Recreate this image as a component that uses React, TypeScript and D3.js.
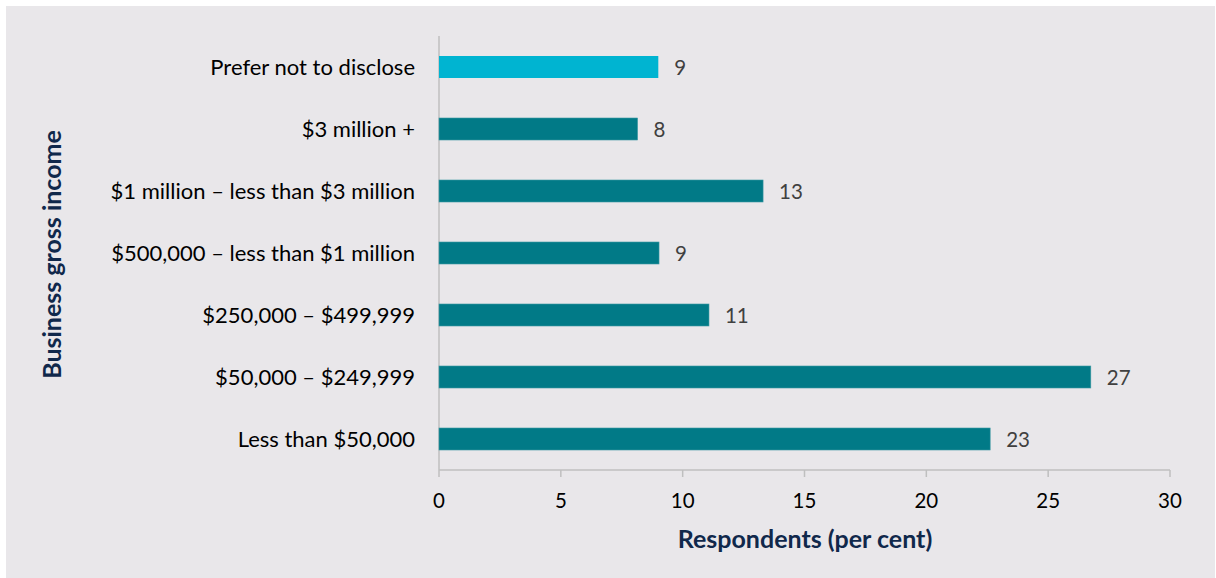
import React from "react";
import * as d3 from "d3";

const categories = [
  "Prefer not to disclose",
  "$3 million +",
  "$1 million – less than $3 million",
  "$500,000 – less than $1 million",
  "$250,000 – $499,999",
  "$50,000 – $249,999",
  "Less than $50,000",
];
const values = [9.0, 8.15, 13.3, 9.03, 11.08, 26.75, 22.62];
const barColors = ["#00B4D1", "#017A87", "#017A87", "#017A87", "#017A87", "#017A87", "#017A87"];
const xTicks = [0, 5, 10, 15, 20, 25, 30];
const xTitle = "Respondents (per cent)";
const yTitle = "Business gross income";

const W = 1216;
const H = 578;
const FONT = "Lato, 'Open Sans', sans-serif";

export default function App() {
  const x = d3.scaleLinear().domain([0, 30]).range([439, 1170]);
  const y = d3
    .scaleBand<string>()
    .domain(categories)
    .range([36, 470])
    .paddingInner(0.645)
    .paddingOuter(0.3225);
  const axisColor = "#BFBFBF";
  return (
    <svg
      width={W}
      height={H}
      style={{ position: "absolute", left: 0, top: 0 }}
      fontFamily={FONT}
    >
      <rect x={0} y={0} width={W} height={H} fill="#FFFFFF" />
      <rect x={6} y={6} width={1209} height={H - 6} fill="#E9E7EA" />
      <line x1={x(0)} x2={x(0)} y1={36} y2={470} stroke={axisColor} strokeWidth={1.5} />
      <line x1={x(0)} x2={x(30)} y1={470} y2={470} stroke={axisColor} strokeWidth={1.5} />
      {xTicks.map((t) => (
        <g key={t}>
          <line x1={x(t)} x2={x(t)} y1={470} y2={477} stroke={axisColor} strokeWidth={1.5} />
          <text x={x(t)} y={508} textAnchor="middle" fontSize={20.5} fill="#000">
            {t}
          </text>
        </g>
      ))}
      {categories.map((c, i) => {
        const yc = (y(c) as number) + y.bandwidth() / 2;
        return (
          <g key={c}>
            <rect
              x={x(0)}
              y={y(c)}
              width={x(values[i]) - x(0)}
              height={y.bandwidth()}
              fill={barColors[i]}
              stroke={i === 0 ? "none" : "#3F9AA4"}
              strokeWidth={0.6}
            />
            <text x={415} y={yc + 7.8} textAnchor="end" fontSize={22} fill="#000">
              {c}
            </text>
            <text x={x(values[i]) + 16} y={yc + 7.5} fontSize={20.5} fill="#404040">
              {Math.round(values[i])}
            </text>
          </g>
        );
      })}
      <text
        x={805}
        y={548}
        textAnchor="middle"
        fontSize={25}
        fontWeight={700}
        fill="#10284B"
      >
        {xTitle}
      </text>
      <text
        transform="translate(61,254.5) rotate(-90)"
        textAnchor="middle"
        fontSize={25}
        fontWeight={700}
        fill="#10284B"
      >
        {yTitle}
      </text>
    </svg>
  );
}
